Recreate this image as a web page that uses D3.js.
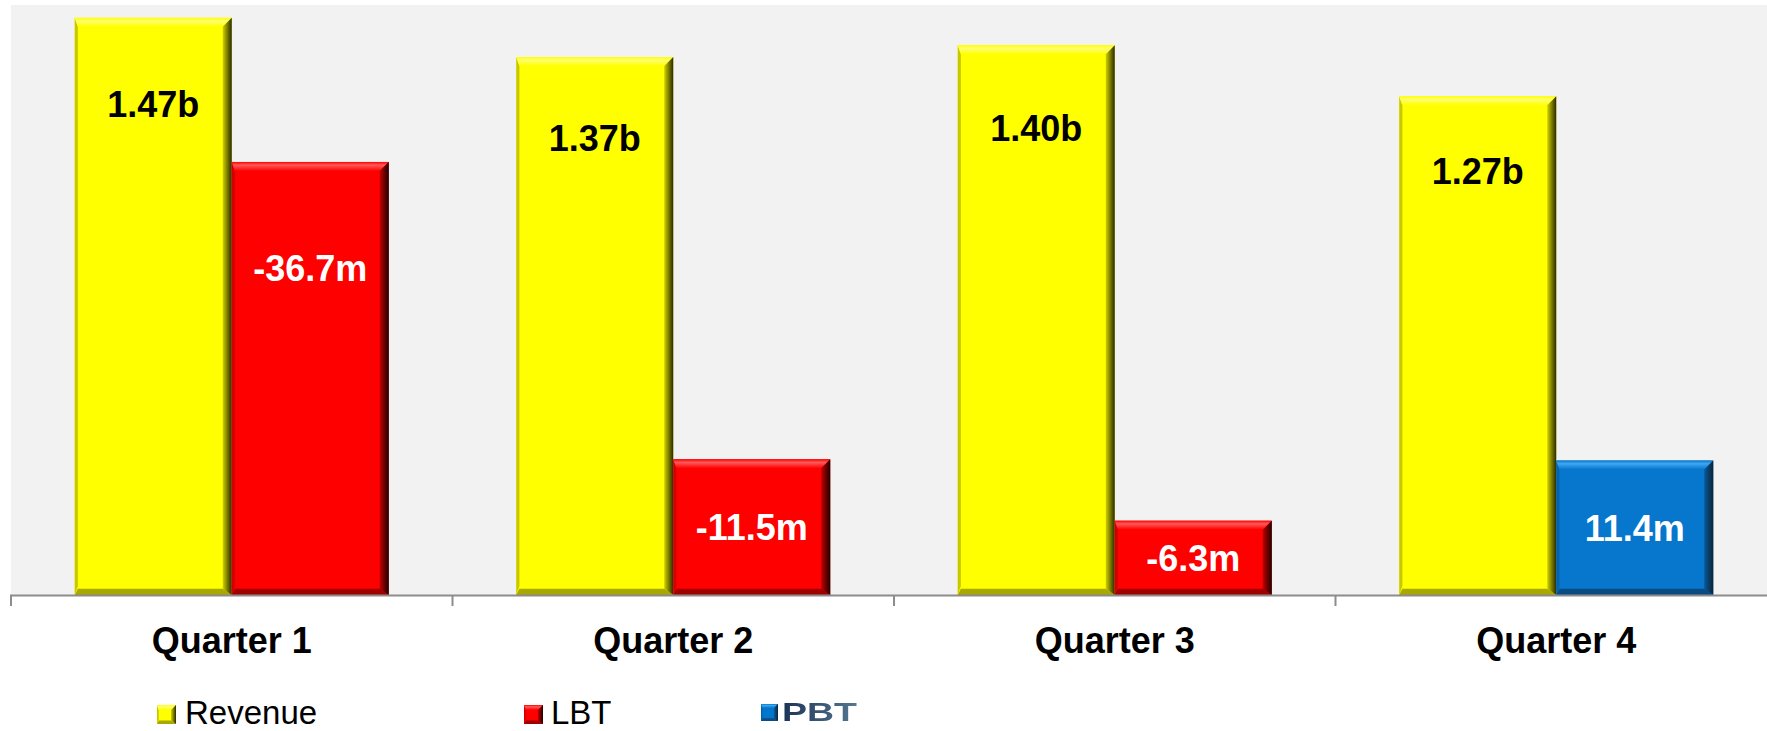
<!DOCTYPE html>
<html>
<head>
<meta charset="utf-8">
<script src="https://cdn.jsdelivr.net/npm/d3@7"></script>
<style>
  html, body { margin: 0; padding: 0; background: #ffffff; }
  svg { display: block; font-family: "Liberation Sans", Arial, Helvetica, sans-serif; }
</style>
</head>
<body>
<svg id="chart" width="1767" height="731"></svg>
<script>
// Quarterly revenue (billions) and profit / loss before tax (millions)
const quarters = ["Quarter 1", "Quarter 2", "Quarter 3", "Quarter 4"];
const revenue = [1.47, 1.37, 1.40, 1.27];
const profitBeforeTax = [-36.7, -11.5, -6.3, 11.4];
const revenueLabels = ["1.47b", "1.37b", "1.40b", "1.27b"];
const resultLabels = ["-36.7m", "-11.5m", "-6.3m", "11.4m"];
const legendItems = ["Revenue", "LBT", "PBT"];

// Where each value label sits, as a share of its bar's height
const revenueLabelAt = 0.85;
const resultLabelAt = [0.755, 0.5, 0.5, 0.5];

const W = 1767, H = 731;
const plot = { left: 11, right: 1777, top: 5, bottom: 595 };

const svg = d3.select("#chart");
const defs = svg.append("defs");

const palettes = {
  rev:  { base: "#ffff00", top: "#ffff70", left: "#c8c800", bottom: "#a8a800", rightA: "#d0d000", rightB: "#2a2a00" },
  loss: { base: "#ff0000", top: "#ff5a5a", left: "#d00000", bottom: "#a00000", rightA: "#c00000", rightB: "#200000" },
  gain: { base: "#0677cc", top: "#3fa6f2", left: "#0563aa", bottom: "#0a4c82", rightA: "#075a98", rightB: "#0c2236" }
};

// Gradients for the shaded bevels of each colour
Object.entries(palettes).forEach(([k, p]) => {
  const g = defs.append("linearGradient").attr("id", "rg-" + k)
    .attr("x1", "0").attr("x2", "1").attr("y1", "0").attr("y2", "0");
  g.append("stop").attr("offset", "0").attr("stop-color", p.rightA);
  g.append("stop").attr("offset", "1").attr("stop-color", p.rightB);
  const t = defs.append("linearGradient").attr("id", "tg-" + k)
    .attr("x1", "0").attr("x2", "0").attr("y1", "0").attr("y2", "1");
  t.append("stop").attr("offset", "0").attr("stop-color", p.base);
  t.append("stop").attr("offset", "0.35").attr("stop-color", p.top);
  t.append("stop").attr("offset", "1").attr("stop-color", p.base);
});

const pbtText = defs.append("linearGradient").attr("id", "pbt-text")
  .attr("x1", "0").attr("x2", "1").attr("y1", "0").attr("y2", "0");
pbtText.append("stop").attr("offset", "0").attr("stop-color", "#1b3356");
pbtText.append("stop").attr("offset", "1").attr("stop-color", "#557890");
defs.append("filter").attr("id", "soft")
  .append("feGaussianBlur").attr("stdDeviation", 0.55);

// Beveled block: flat face plus four sloped edges
function bevelBox(g, x, y, w, h, key, b) {
  const p = palettes[key];
  const bb = Math.min(b, w / 2, h / 2);
  const grp = g.append("g");
  grp.append("rect").attr("x", x).attr("y", y).attr("width", w).attr("height", h).attr("fill", p.base);
  const poly = (pts, fill) => grp.append("polygon")
    .attr("points", pts.map(q => q.join(",")).join(" ")).attr("fill", fill);
  poly([[x, y], [x + bb * 0.35, y + bb], [x + bb * 0.35, y + h - bb], [x, y + h]], p.left);
  poly([[x, y + h], [x + w, y + h], [x + w - bb, y + h - bb * 0.7], [x + bb * 0.35, y + h - bb * 0.7]], p.bottom);
  poly([[x, y], [x + w, y], [x + w - bb, y + bb], [x + bb * 0.35, y + bb]], "url(#tg-" + key + ")");
  poly([[x + w, y], [x + w, y + h], [x + w - bb, y + h - bb * 0.7], [x + w - bb, y + bb]], "url(#rg-" + key + ")");
  return grp;
}

// Scales
const x0 = d3.scaleBand().domain(quarters).range([plot.left, plot.right]).paddingInner(0).paddingOuter(0);
const x1 = d3.scaleBand().domain(["rev", "res"]).range([0, x0.bandwidth()]).paddingInner(0).paddingOuter(0.406);
const yRev = d3.scaleLinear().domain([0, 1.5]).range([plot.bottom, 6]);
const yRes = d3.scaleLinear().domain([0, 50]).range([plot.bottom, plot.top]);

// Plot area
svg.append("rect").attr("x", plot.left).attr("y", plot.top)
  .attr("width", W - plot.left).attr("height", plot.bottom - plot.top).attr("fill", "#f2f2f2");

const bars = svg.append("g");
quarters.forEach((q, i) => {
  const xr = x0(q) + x1("rev");
  const bw = x1.bandwidth();
  const yTop = yRev(revenue[i]);
  bevelBox(bars, xr, yTop, bw, plot.bottom - yTop, "rev", 9);

  const v = profitBeforeTax[i];
  const xs = x0(q) + x1("res");
  const ys = yRes(Math.abs(v));
  bevelBox(bars, xs, ys, bw, plot.bottom - ys, v < 0 ? "loss" : "gain", 9);
});

// Value labels
const labels = svg.append("g").attr("font-weight", "bold").attr("font-size", 36).attr("text-anchor", "middle");
quarters.forEach((q, i) => {
  const bw = x1.bandwidth();
  labels.append("text")
    .attr("x", x0(q) + x1("rev") + bw / 2)
    .attr("y", yRev(revenue[i] * revenueLabelAt) + 13)
    .attr("fill", "#000000")
    .text(revenueLabels[i]);
  const v = Math.abs(profitBeforeTax[i]);
  labels.append("text")
    .attr("x", x0(q) + x1("res") + bw / 2)
    .attr("y", yRes(v * resultLabelAt[i]) + 13)
    .attr("fill", "#ffffff")
    .text(resultLabels[i]);
});

// Category axis
const axis = svg.append("g").attr("transform", `translate(0,${plot.bottom})`)
  .call(d3.axisBottom(x0).tickSize(0).tickPadding(58));
axis.select(".domain").remove();
axis.selectAll("text").attr("font-size", 36).attr("font-weight", "bold").attr("fill", "#000")
  .attr("font-family", "'Liberation Sans', Arial, sans-serif").attr("dy", 0);
axis.append("line").attr("x1", 10).attr("x2", W).attr("y1", 0.5).attr("y2", 0.5)
  .attr("stroke", "#8c8c8c").attr("stroke-width", 2);
quarters.forEach(q => {
  axis.append("line").attr("x1", x0(q)).attr("x2", x0(q)).attr("y1", 0).attr("y2", 11)
    .attr("stroke", "#8c8c8c").attr("stroke-width", 2);
});

// Legend
const legend = svg.append("g");
bevelBox(legend, 157, 705, 19, 19, "rev", 5);
legend.append("text").attr("x", 185).attr("y", 724).attr("font-size", 33).attr("fill", "#000").text(legendItems[0]);
bevelBox(legend, 524, 705, 19, 19, "loss", 5);
legend.append("text").attr("x", 551).attr("y", 724).attr("font-size", 33).attr("fill", "#000").text(legendItems[1]);
const pbt = legend.append("g").attr("filter", "url(#soft)");
bevelBox(pbt, 761, 704, 17, 17, "gain", 4);
pbt.append("text").attr("x", 782).attr("y", 721).attr("font-size", 25).attr("font-weight", "bold")
  .attr("textLength", 75).attr("lengthAdjust", "spacingAndGlyphs")
  .attr("fill", "url(#pbt-text)").text(legendItems[2]);
</script>
</body>
</html>
